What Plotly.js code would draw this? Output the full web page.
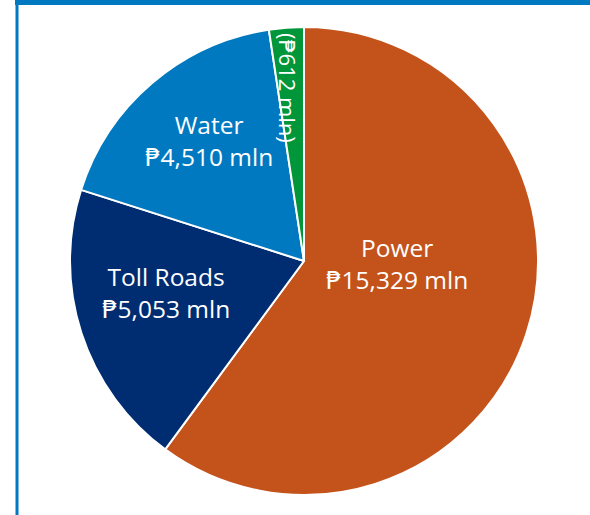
<!DOCTYPE html>
<html>
<head>
<meta charset="utf-8">
<script src="https://cdn.plot.ly/plotly-3.0.1.min.js"></script>
<style>html,body{margin:0;padding:0;background:#fff;}#chart{width:590px;height:515px;}</style>
</head>
<body>
<div id="chart"></div>
<script>
const segments = ["Power", "Toll Roads", "Water", "Other"];
const revenues = [15329, 5053, 4510, 612];
const amountLabels = ["₱15,329 mln", "₱5,053 mln", "₱4,510 mln", "(₱612 mln)"];
const sliceColors = ["#C4531B", "#002D72", "#0079C1", "#009639"];

// label placement (pixels in the 590x515 canvas) and orientation — style only
const labelPos = [[397, 263], [166, 292], [209, 140], [288, 88]];
const labelAngle = [0, 0, 0, 90];
const showName = [true, true, true, false];

const W = 590, H = 515;
const FONT = "'Open Sans', 'DejaVu Sans', sans-serif";

const trace = {
  type: "pie",
  labels: segments,
  values: revenues,
  textinfo: "none",
  sort: false,
  direction: "clockwise",
  rotation: 0,
  marker: {colors: sliceColors, line: {color: "#FFFFFF", width: 2}},
  domain: {x: [70/W, 538/W], y: [20/H, 488/H]},
  showlegend: false,
  hoverinfo: "label+value"
};

const annotations = segments.map((s, i) => ({
  xref: "paper", yref: "paper",
  x: labelPos[i][0] / W, y: 1 - labelPos[i][1] / H,
  xanchor: "center", yanchor: "middle",
  text: showName[i] ? s + "<br>" + amountLabels[i] : amountLabels[i],
  textangle: labelAngle[i],
  showarrow: false,
  font: {family: FONT, size: i === 3 ? 22 : 24.5, color: "#FFFFFF"}
}));

const layout = {
  width: W,
  height: H,
  margin: {l: 0, r: 0, t: 0, b: 0},
  paper_bgcolor: "#FFFFFF",
  showlegend: false,
  annotations: annotations,
  shapes: [
    {type: "rect", xref: "paper", yref: "paper", x0: 15/W, x1: 1, y0: 1 - 5/H, y1: 1, fillcolor: "#0079C1", line: {width: 0}},
    {type: "rect", xref: "paper", yref: "paper", x0: 15.5/W, x1: 18.5/W, y0: 0, y1: 1, fillcolor: "#0079C1", line: {width: 0}}
  ]
};

Plotly.newPlot("chart", [trace], layout, {displayModeBar: false, staticPlot: true});
</script>
</body>
</html>
